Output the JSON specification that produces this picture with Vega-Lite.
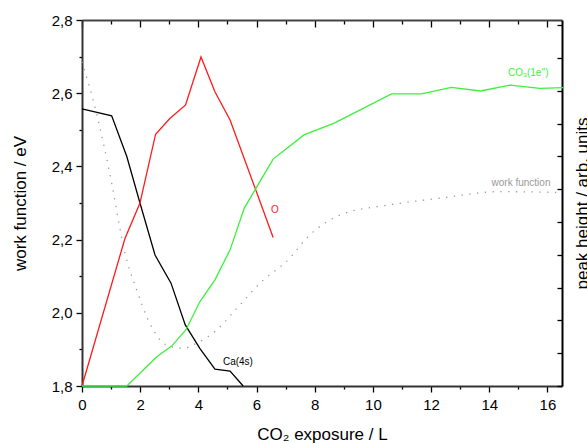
{
  "$schema": "https://vega.github.io/schema/vega-lite/v6.json",
  "width": 480,
  "height": 366,
  "autosize": "none",
  "padding": {"left": 82, "top": 20, "right": 25, "bottom": 57},
  "background": "white",
  "config": {"view": {"stroke": null}, "font": "Liberation Sans"},
  "datasets": {
    "lines": [
      {"series": "Ca(4s)", "x": 0, "y": 2.557},
      {"series": "Ca(4s)", "x": 1.02, "y": 2.538},
      {"series": "Ca(4s)", "x": 1.54, "y": 2.427},
      {"series": "Ca(4s)", "x": 2.0, "y": 2.298},
      {"series": "Ca(4s)", "x": 2.51, "y": 2.158},
      {"series": "Ca(4s)", "x": 3.06, "y": 2.081},
      {"series": "Ca(4s)", "x": 3.55, "y": 1.967},
      {"series": "Ca(4s)", "x": 4.05, "y": 1.903},
      {"series": "Ca(4s)", "x": 4.57, "y": 1.846},
      {"series": "Ca(4s)", "x": 5.09, "y": 1.841},
      {"series": "Ca(4s)", "x": 5.54, "y": 1.8},
      {"series": "O", "x": 0, "y": 1.8},
      {"series": "O", "x": 1.48, "y": 2.204},
      {"series": "O", "x": 1.99, "y": 2.299},
      {"series": "O", "x": 2.53, "y": 2.488},
      {"series": "O", "x": 3.02, "y": 2.531},
      {"series": "O", "x": 3.56, "y": 2.568},
      {"series": "O", "x": 4.09, "y": 2.699},
      {"series": "O", "x": 4.57, "y": 2.604},
      {"series": "O", "x": 5.09, "y": 2.527},
      {"series": "O", "x": 6.57, "y": 2.206},
      {"series": "CO3", "x": 0, "y": 1.8},
      {"series": "CO3", "x": 1.54, "y": 1.8},
      {"series": "CO3", "x": 2.57, "y": 1.88},
      {"series": "CO3", "x": 3.08, "y": 1.909},
      {"series": "CO3", "x": 3.57, "y": 1.953},
      {"series": "CO3", "x": 4.05, "y": 2.03},
      {"series": "CO3", "x": 4.57, "y": 2.09},
      {"series": "CO3", "x": 5.09, "y": 2.172},
      {"series": "CO3", "x": 5.58, "y": 2.286},
      {"series": "CO3", "x": 6.57, "y": 2.42},
      {"series": "CO3", "x": 7.63, "y": 2.486},
      {"series": "CO3", "x": 8.69, "y": 2.519},
      {"series": "CO3", "x": 10.64, "y": 2.598},
      {"series": "CO3", "x": 11.67, "y": 2.598},
      {"series": "CO3", "x": 12.7, "y": 2.616},
      {"series": "CO3", "x": 13.7, "y": 2.606},
      {"series": "CO3", "x": 14.71, "y": 2.622},
      {"series": "CO3", "x": 15.74, "y": 2.613},
      {"series": "CO3", "x": 16.54, "y": 2.615},
      {"series": "wf", "x": 0, "y": 2.686},
      {"series": "wf", "x": 0.5, "y": 2.545},
      {"series": "wf", "x": 1.02, "y": 2.354},
      {"series": "wf", "x": 1.36, "y": 2.208},
      {"series": "wf", "x": 1.48, "y": 2.163},
      {"series": "wf", "x": 1.88, "y": 2.062},
      {"series": "wf", "x": 2.28, "y": 1.98},
      {"series": "wf", "x": 2.68, "y": 1.926},
      {"series": "wf", "x": 3.08, "y": 1.907},
      {"series": "wf", "x": 3.48, "y": 1.903},
      {"series": "wf", "x": 3.94, "y": 1.917},
      {"series": "wf", "x": 4.63, "y": 1.953},
      {"series": "wf", "x": 5.32, "y": 2.012},
      {"series": "wf", "x": 6.12, "y": 2.081},
      {"series": "wf", "x": 7.15, "y": 2.15},
      {"series": "wf", "x": 7.72, "y": 2.204},
      {"series": "wf", "x": 8.87, "y": 2.267},
      {"series": "wf", "x": 10.58, "y": 2.295},
      {"series": "wf", "x": 12.3, "y": 2.313},
      {"series": "wf", "x": 14.36, "y": 2.331},
      {"series": "wf", "x": 16.3, "y": 2.329}
    ],
    "labels": [
      {"series": "Ca(4s)", "x": 5.36, "y": 1.866, "label": "Ca(4s)"},
      {"series": "O", "x": 6.63, "y": 2.281, "label": "O"},
      {"series": "CO3", "x": 15.34, "y": 2.655, "label": "CO₃(1e'')"},
      {"series": "wf", "x": 15.09, "y": 2.355, "label": "work function"}
    ]
  },
  "layer": [
    {
      "data": {"name": "lines"},
      "mark": {"type": "point", "opacity": 0},
      "encoding": {
        "x": {
          "field": "x", "type": "quantitative",
          "scale": {"domain": [0, 16.5], "nice": false, "zero": false},
          "axis": {
            "orient": "top",
            "values": [0,1,2,3,4,5,6,7,8,9,10,11,12,13,14,15,16],
            "labels": false,
            "tickSize": {"condition": {"test": "datum.value % 2 == 0", "value": -7}, "value": -4},
            "tickColor": "#000", "tickWidth": 1.3,
            "domainColor": "#444", "domainWidth": 2,
            "grid": false, "title": null
          }
        },
        "y": {
          "field": "y", "type": "quantitative",
          "scale": {"domain": [1.8, 2.8], "nice": false, "zero": false},
          "axis": {
            "orient": "right",
            "values": [1.8, 1.8896, 1.9792, 2.0689, 2.1585, 2.2481, 2.3377, 2.4273, 2.5169, 2.6066, 2.6962, 2.7858],
            "labels": false,
            "tickSize": -5,
            "tickColor": "#000", "tickWidth": 1.3,
            "domainColor": "#000", "domainWidth": 2,
            "grid": false,
            "title": "peak height / arb. units",
            "titleFontSize": 17, "titleFontWeight": "normal", "titleColor": "#000",
            "titleX": 20, "titleY": 183, "titleAngle": 270, "titleBaseline": "middle", "titleAlign": "center"
          }
        }
      }
    },
    {
      "data": {"name": "lines"},
      "transform": [{"filter": "datum.series == 'wf'"}],
      "mark": {"type": "line", "strokeWidth": 1.3, "strokeDash": [1.3, 6.5], "interpolate": "monotone", "clip": true},
      "encoding": {
        "x": {"field": "x", "type": "quantitative", "axis": null},
        "y": {"field": "y", "type": "quantitative", "axis": null},
        "color": {"field": "series", "type": "nominal", "legend": null}
      }
    },
    {
      "data": {"name": "lines"},
      "transform": [{"filter": "datum.series != 'wf'"}],
      "mark": {"type": "line", "strokeWidth": 1.3},
      "encoding": {
        "x": {
          "field": "x", "type": "quantitative",
          "axis": {
            "orient": "bottom",
            "values": [0,1,2,3,4,5,6,7,8,9,10,11,12,13,14,15,16],
            "labelExpr": "datum.value % 2 == 0 ? format(datum.value, 'd') : ''",
            "tickSize": {"condition": {"test": "datum.value % 2 == 0", "value": 6}, "value": 3},
            "tickColor": "#000", "tickWidth": 1.3,
            "domainColor": "#333", "domainWidth": 2,
            "labelFontSize": 15, "labelColor": "#000", "labelPadding": 5, "labelFlush": false,
            "grid": false,
            "title": "CO₂ exposure / L",
            "titleFontSize": 17, "titleFontWeight": "normal", "titleColor": "#000",
            "titleX": 240, "titleY": 53, "titleBaseline": "alphabetic", "titleAlign": "center"
          }
        },
        "y": {
          "field": "y", "type": "quantitative",
          "axis": {
            "orient": "left",
            "values": [1.8,1.9,2.0,2.1,2.2,2.3,2.4,2.5,2.6,2.7,2.8],
            "labelExpr": "round(datum.value*10) % 2 == 0 ? replace(format(datum.value, '.1f'), '.', ',') : ''",
            "tickSize": {"condition": {"test": "round(datum.value*10) % 2 == 0", "value": 6}, "value": 3},
            "tickColor": "#000", "tickWidth": 1.3,
            "domainColor": "#333", "domainWidth": 2,
            "labelFontSize": 15, "labelColor": "#000", "labelPadding": 4, "labelFlush": false,
            "grid": false,
            "title": "work function / eV",
            "titleFontSize": 17, "titleFontWeight": "normal", "titleColor": "#000",
            "titleX": -62, "titleY": 183, "titleAngle": 270, "titleBaseline": "middle", "titleAlign": "center"
          }
        },
        "color": {
          "field": "series", "type": "nominal",
          "scale": {"domain": ["Ca(4s)", "O", "CO3", "wf"], "range": ["#000000", "#ff1a1a", "#3cf03c", "#999999"]},
          "legend": null
        }
      }
    },
    {
      "data": {"name": "labels"},
      "mark": {"type": "text", "fontSize": 10, "align": "center", "baseline": "middle"},
      "encoding": {
        "x": {"field": "x", "type": "quantitative", "axis": null},
        "y": {"field": "y", "type": "quantitative", "axis": null},
        "text": {"field": "label"},
        "color": {"field": "series", "type": "nominal", "legend": null}
      }
    }
  ],
  "resolve": {"axis": {"x": "independent", "y": "independent"}}
}
